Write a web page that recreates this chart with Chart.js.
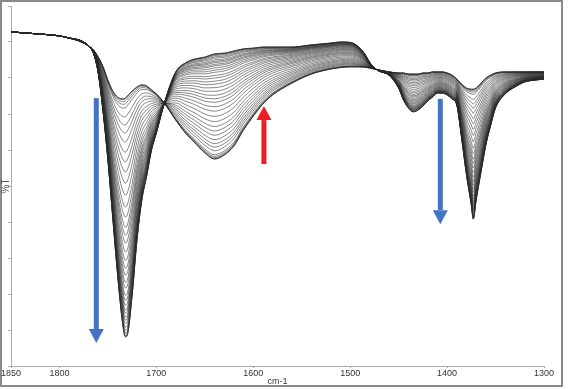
<!DOCTYPE html>
<html>
<head>
<meta charset="utf-8">
<script src="https://cdn.jsdelivr.net/npm/chart.js@4.4.1/dist/chart.umd.min.js"></script>
<style>
  body { margin: 0; background: #fff; }
  canvas { display: block; }
</style>
</head>
<body>
<canvas id="spectra" width="568" height="389"></canvas>
<script>
// wavenumbers (cm-1) where the spectra were read
var wavenumbers = [1850, 1840, 1820, 1800, 1790, 1780, 1775, 1770, 1765, 1760, 1755, 1750, 1745, 1740, 1735, 1732, 1730, 1725, 1720, 1715, 1710, 1705, 1700, 1692,
  1680, 1670, 1660, 1650, 1640, 1630, 1620, 1610, 1600, 1590, 1580, 1560, 1540, 1520, 1510, 1500, 1495, 1490, 1485, 1480, 1475, 1470, 1460, 1450, 1445, 1440, 1435, 1430, 1425, 1420,
  1415, 1410, 1405, 1400, 1395, 1390, 1385, 1380, 1375, 1373, 1370, 1365, 1360, 1355, 1350, 1340, 1330, 1320, 1310, 1300];

// %T of the first scan
var firstScan = [92.8, 92.6, 92.2, 91.7, 91.1, 90.3, 89.7, 88.9, 87.8, 85.8, 83.1, 79.4, 76.4, 74.7, 74.2, 74.4, 75.0, 76.4, 77.5, 78.1, 77.8, 76.7, 75.6, 73.1,
  68.3, 64.7, 61.9, 59.2, 57.5, 58.6, 61.1, 65.6, 69.4, 72.8, 75.3, 78.6, 81.1, 82.5, 82.9, 83.1, 83.1, 83.1, 83.0, 82.8, 82.5, 82.2, 81.7, 81.4, 81.4, 81.1, 81.1, 81.1, 81.4, 81.4,
  81.7, 81.7, 81.7, 81.4, 80.8, 79.7, 78.3, 77.2, 76.9, 76.9, 77.2, 78.6, 80.0, 80.8, 81.4, 81.7, 81.7, 81.7, 81.7, 81.7];

// %T of the last scan
var lastScan = [92.8, 92.6, 92.2, 91.7, 91.1, 90.6, 90.0, 88.9, 86.9, 81.4, 70.6, 57.2, 41.1, 25.3, 12.2, 8.1, 8.6, 19.7, 35.0, 46.1, 52.8, 60.0, 64.7, 72.8,
  81.7, 84.2, 85.3, 85.8, 86.7, 86.9, 87.5, 88.1, 88.3, 88.6, 88.6, 88.6, 89.2, 89.7, 90.0, 89.9, 89.4, 88.3, 86.7, 84.4, 82.8, 81.9, 80.8, 77.2, 73.9, 71.7, 70.6, 71.1, 72.2, 73.6,
  74.7, 75.8, 75.8, 75.3, 74.2, 72.5, 63.3, 53.1, 44.7, 40.8, 46.1, 53.9, 61.4, 66.9, 71.7, 75.6, 77.5, 78.9, 79.4, 79.7];

// %T at 1732 cm-1 of every scan, first to last
var scanDepths = [74.7, 74.4, 74.2, 73.6, 72.8, 71.7, 69.2, 66.9, 64.7, 62.2, 59.4, 56.7, 53.9, 50.8, 47.5, 44.2, 41.4, 38.6, 36.4, 34.2, 31.7,
  29.4, 27.2, 25.3, 23.3, 21.7, 19.7, 18.3, 16.9, 15.6, 14.7, 13.6, 12.8, 11.9, 10.8, 10.0, 9.2, 8.6, 8.3, 8.1, 8.1];

var xTicks = [1850, 1800, 1700, 1600, 1500, 1400, 1300];

// arrows: position (cm-1), start and end (%T)
var arrowX = [1762, 1589, 1407];
var arrowFrom = [74.4, 56.1, 74.2];
var arrowTo = [6.4, 72.2, 39.4];
var arrowColors = ['#4472c4', '#ee1c25', '#4472c4'];

var ref = wavenumbers.indexOf(1732);

function buildScan(depth) {
  var f = (firstScan[ref] - depth) / (firstScan[ref] - lastScan[ref]);
  f = Math.max(0, Math.min(1, f));
  var points = [];
  for (var i = 0; i < wavenumbers.length; i++) {
    points.push({ x: wavenumbers[i], y: firstScan[i] + f * (lastScan[i] - firstScan[i]) });
  }
  return points;
}

var datasets = scanDepths.map(function(d) {
  return {
    data: buildScan(d),
    borderColor: 'rgba(40,40,40,0.7)',
    borderWidth: 0.8,
    pointRadius: 0,
    fill: false,
    cubicInterpolationMode: 'monotone'
  };
});

var framePlugin = {
  id: 'frame',
  beforeDraw: function(chart) {
    var ctx = chart.ctx;
    ctx.save();
    ctx.fillStyle = '#fff';
    ctx.fillRect(0, 0, chart.width, chart.height);
    ctx.strokeStyle = '#8a8a8a';
    ctx.lineWidth = 2;
    ctx.strokeRect(1, 1, 561, 385);
    ctx.restore();
  }
};

var arrowPlugin = {
  id: 'arrows',
  afterDatasetsDraw: function(chart) {
    var ctx = chart.ctx;
    var xs = chart.scales.x, ys = chart.scales.y;
    for (var i = 0; i < arrowX.length; i++) {
      var x = xs.getPixelForValue(arrowX[i]);
      var y0 = ys.getPixelForValue(arrowFrom[i]);
      var y1 = ys.getPixelForValue(arrowTo[i]);
      var dir = y1 > y0 ? 1 : -1;
      var head = 14;
      ctx.save();
      ctx.fillStyle = arrowColors[i];
      ctx.fillRect(x - 2.5, Math.min(y0, y1 - dir * head), 5, Math.abs(y1 - dir * head - y0));
      ctx.beginPath();
      ctx.moveTo(x, y1);
      ctx.lineTo(x - 7.5, y1 - dir * head);
      ctx.lineTo(x + 7.5, y1 - dir * head);
      ctx.closePath();
      ctx.fill();
      ctx.restore();
    }
  }
};

new Chart(document.getElementById('spectra'), {
  type: 'line',
  data: { datasets: datasets },
  plugins: [framePlugin, arrowPlugin],
  options: {
    responsive: false,
    animation: false,
    devicePixelRatio: 1,
    layout: { padding: { top: 6, right: 24, bottom: 2, left: 0 } },
    plugins: { legend: { display: false }, tooltip: { enabled: false } },
    scales: {
      x: {
        type: 'linear',
        reverse: true,
        min: 1300,
        max: 1850,
        afterBuildTicks: function(scale) {
          scale.ticks = xTicks.map(function(v) { return { value: v }; });
        },
        afterFit: function(scale) { scale.height = 21; },
        grid: { drawOnChartArea: false, tickLength: 2, color: '#aaa' },
        border: { color: '#aaa' },
        ticks: {
          padding: 0, maxRotation: 0, autoSkip: false, color: '#333',
          font: { family: 'Liberation Sans', size: 9 },
          callback: function(v) { return String(v); }
        },
        title: { display: true, text: 'cm-1', padding: 0, color: '#333', font: { family: 'Liberation Sans', size: 9 } }
      },
      y: {
        min: 0,
        max: 100,
        afterFit: function(scale) { scale.width = 11; },
        grid: { drawOnChartArea: false, tickLength: 3, color: '#aaa' },
        border: { color: '#aaa' },
        ticks: { stepSize: 10, display: false },
        title: { display: true, text: '%T', padding: 0, color: '#555', font: { family: 'Liberation Sans', size: 10 } }
      }
    }
  }
});
</script>
</body>
</html>
